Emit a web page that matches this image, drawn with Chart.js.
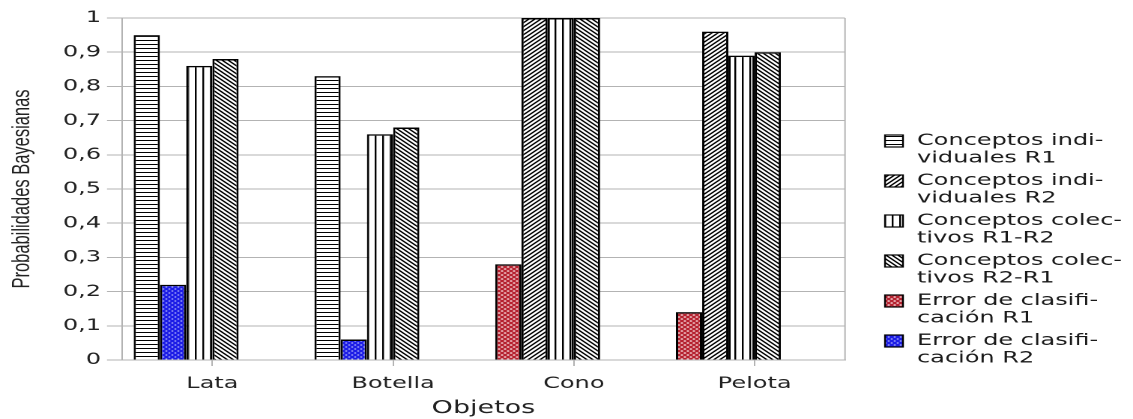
<!DOCTYPE html>
<html>
<head>
<meta charset="utf-8">
<script src="https://cdn.jsdelivr.net/npm/chart.js@4.4.1/dist/chart.umd.min.js"></script>
<style>
  html, body { margin: 0; padding: 0; background: #fff; overflow: hidden; }
  #wrap { width: 756px; height: 419px; transform-origin: 0 0; }
</style>
</head>
<body>
<div id="wrap"><canvas id="chart"></canvas></div>
<script>
// the reference picture is stretched sideways, so the chart is drawn narrow and widened
const STRETCH = 1133 / 756;

const categories = ["Lata", "Botella", "Cono", "Pelota"];

const indivR1 = [0.95, 0.83, null, null];
const indivR2 = [null, null, 1, 0.96];
const colecR1R2 = [0.86, 0.66, 1, 0.89];
const colecR2R1 = [0.88, 0.68, 1, 0.90];
const errorR1 = [null, null, 0.28, 0.14];
const errorR2 = [0.22, 0.06, null, null];

const seriesNames = [
  "Conceptos individuales R1",
  "Conceptos individuales R2",
  "Conceptos colectivos R1-R2",
  "Conceptos colectivos R2-R1",
  "Error de clasificación R1",
  "Error de clasificación R2",
];
// legend text is hyphenated over two lines like in the picture
const legendLines = [
  ["Conceptos indi-", "viduales R1"],
  ["Conceptos indi-", "viduales R2"],
  ["Conceptos colec-", "tivos R1-R2"],
  ["Conceptos colec-", "tivos R2-R1"],
  ["Error de clasifi-", "cación R1"],
  ["Error de clasifi-", "cación R2"],
];

const yTitle = "Probabilidades Bayesianas";
const xTitle = "Objetos";

document.getElementById("wrap").style.transform = "scaleX(" + STRETCH + ")";

function hatch(kind) {
  const k = 2;
  const w = kind === "vert" ? 5 : 4;
  const h = 4;
  const c = document.createElement("canvas");
  c.width = w * k;
  c.height = h * k;
  const g = c.getContext("2d");
  g.scale(k, k);
  g.fillStyle = "#fff";
  g.fillRect(0, 0, w, h);
  g.fillStyle = "#000";
  g.strokeStyle = "#000";
  g.lineWidth = 1.2;
  if (kind === "horiz") {
    g.fillRect(0, 0, w, 1);
  } else if (kind === "vert") {
    g.fillRect(0, 0, 1.2, h);
  } else if (kind === "up") {
    g.beginPath();
    g.moveTo(-1, 1); g.lineTo(1, -1);
    g.moveTo(0, 4); g.lineTo(4, 0);
    g.moveTo(3, 5); g.lineTo(5, 3);
    g.stroke();
  } else if (kind === "down") {
    g.beginPath();
    g.moveTo(-1, 3); g.lineTo(1, 5);
    g.moveTo(0, 0); g.lineTo(4, 4);
    g.moveTo(3, -1); g.lineTo(5, 1);
    g.stroke();
  } else {
    g.fillStyle = kind === "red" ? "#b5212f" : "#1c1ce6";
    g.fillRect(0, 0, w, h);
    g.fillStyle = kind === "red" ? "#f6d8da" : "#e4ebff";
    const rx = kind === "red" ? 0.9 : 0.75;
    const ry = kind === "red" ? 0.8 : 0.55;
    [[1, 1], [3, 3]].forEach(([x, y]) => {
      g.beginPath();
      g.ellipse(x, y, rx, ry, 0, 0, Math.PI * 2);
      g.fill();
    });
  }
  const p = g.createPattern(c, "repeat");
  p.setTransform(new DOMMatrix().scale(1 / k));
  return p;
}

const fills = [hatch("horiz"), hatch("up"), hatch("vert"), hatch("down"), hatch("red"), hatch("blue")];
const seriesData = [indivR1, indivR2, colecR1R2, colecR2R1, errorR1, errorR2];
// R1 and its error share a slot, R2 and its error share another
const stackIds = ["a", "b", "c", "d", "a", "b"];

const datasets = seriesData.map((d, i) => ({
  label: seriesNames[i],
  data: d,
  stack: stackIds[i],
  backgroundColor: fills[i],
  borderColor: "#000",
  borderWidth: 1.5,
}));
// two empty slots, the picture leaves room for six bars per group
datasets.push({ label: "", data: categories.map(() => null), stack: "e" });
datasets.push({ label: "", data: categories.map(() => null), stack: "f" });

const framePlugin = {
  id: "frame",
  beforeDatasetsDraw(chart) {
    const { ctx, chartArea } = chart;
    ctx.save();
    ctx.strokeStyle = "#b3b3b3";
    ctx.lineWidth = 1;
    ctx.beginPath();
    ctx.moveTo(chartArea.right, chartArea.top);
    ctx.lineTo(chartArea.right, chartArea.bottom);
    ctx.stroke();
    ctx.restore();
  },
};

const legendPlugin = {
  id: "sideLegend",
  afterDraw(chart) {
    const ctx = chart.ctx;
    const boxX = 885 / STRETCH;
    const textX = 917 / STRETCH;
    ctx.save();
    ctx.font = "16px 'DejaVu Sans', sans-serif";
    ctx.textBaseline = "alphabetic";
    ctx.textAlign = "left";
    legendLines.forEach((lines, i) => {
      const cy = 141 + i * 40;
      ctx.fillStyle = fills[i];
      ctx.fillRect(boxX, cy - 6, 12, 12);
      ctx.strokeStyle = "#000";
      ctx.lineWidth = 1.2;
      ctx.strokeRect(boxX, cy - 6, 12, 12);
      ctx.fillStyle = "#1a1a1a";
      lines.forEach((t, j) => ctx.fillText(t, textX, cy + 4 + j * 17.5));
    });
    ctx.restore();
  },
};

function fmt(v) {
  return (Math.round(v * 10) / 10).toString().replace(".", ",");
}

new Chart(document.getElementById("chart"), {
  type: "bar",
  data: { labels: categories, datasets: datasets },
  options: {
    responsive: true,
    maintainAspectRatio: false,
    animation: false,
    devicePixelRatio: 2,
    categoryPercentage: 0.871,
    barPercentage: 1,
    layout: { padding: { top: 18, right: 756 - 845 / STRETCH, left: 0, bottom: 0 } },
    plugins: { legend: { display: false }, tooltip: { enabled: false } },
    scales: {
      x: {
        grid: { drawOnChartArea: false, drawTicks: true, tickLength: 6, offset: false, color: "#b3b3b3" },
        border: { color: "#b3b3b3" },
        ticks: { font: { family: "'DejaVu Sans', sans-serif", size: 16 }, color: "#222", padding: 8 },
        title: {
          display: true,
          text: xTitle,
          font: { family: "'DejaVu Sans', sans-serif", size: 18 },
          color: "#222",
          padding: { top: 0, bottom: 0 },
        },
        afterFit: (s) => { s.height = 59; },
      },
      y: {
        stacked: true,
        min: 0,
        max: 1,
        ticks: {
          stepSize: 0.1,
          callback: (v) => fmt(v),
          font: { family: "'DejaVu Sans', sans-serif", size: 16 },
          color: "#222",
          padding: 4,
        },
        grid: { color: "#b3b3b3", tickLength: 10 },
        border: { color: "#b3b3b3" },
        title: {
          display: true,
          text: yTitle,
          font: { family: "'Liberation Sans', sans-serif", size: 16.5 },
          color: "#222",
          padding: { top: 5, bottom: 0 },
        },
        afterFit: (s) => { s.width = 122 / STRETCH; },
      },
    },
  },
  plugins: [framePlugin, legendPlugin],
});
</script>
</body>
</html>
